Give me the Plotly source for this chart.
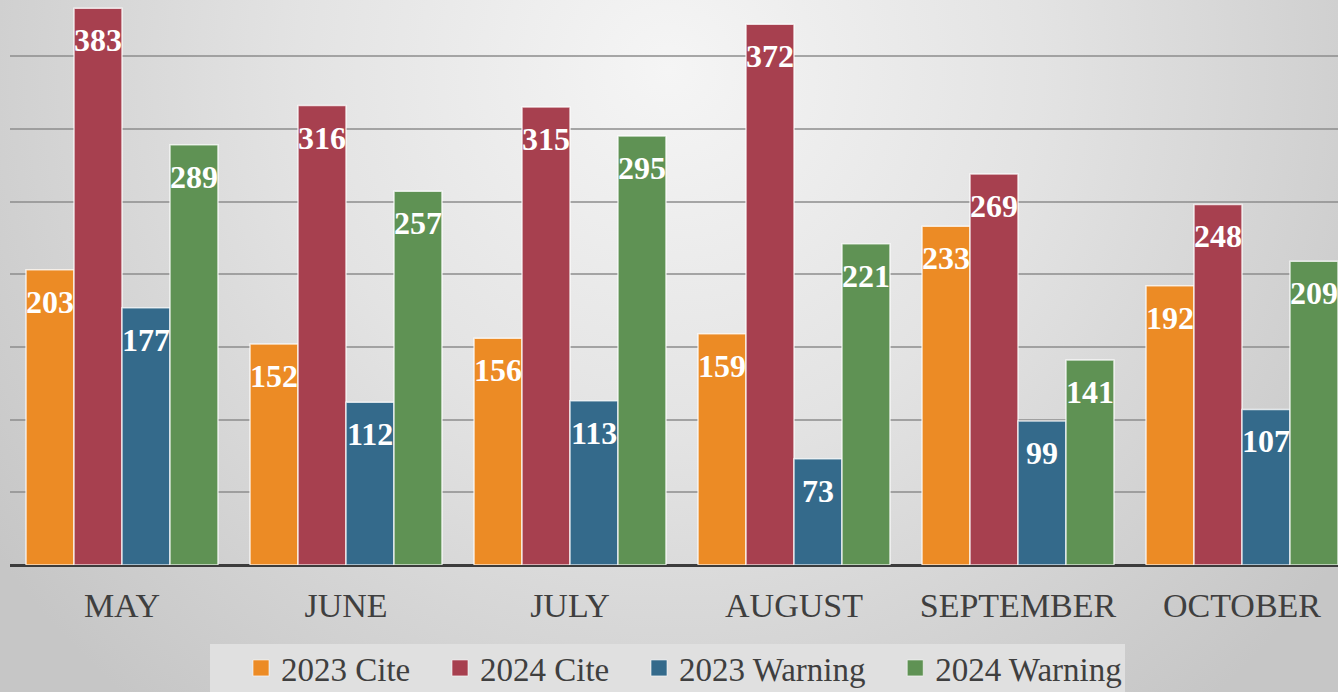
import base64
import plotly.graph_objects as go

months = ["MAY", "JUNE", "JULY", "AUGUST", "SEPTEMBER", "OCTOBER"]
cite_2023 = [203, 152, 156, 159, 233, 192]
cite_2024 = [383, 316, 315, 372, 269, 248]
warn_2023 = [177, 112, 113, 73, 99, 107]
warn_2024 = [289, 257, 295, 221, 141, 209]

series = [
    ("2023 Cite", cite_2023, "#EC8B25"),
    ("2024 Cite", cite_2024, "#A7404F"),
    ("2023 Warning", warn_2023, "#346A8B"),
    ("2024 Warning", warn_2024, "#5F9254"),
]

W, H = 1338, 692
ML, MR, MT, MB = 10, 0, 0, 127
PW, PH = W - ML - MR, H - MT - MB
CAT_PX = 224
BARGAP = 0.143
BAR_PX = CAT_PX * (1 - BARGAP) / len(series)

svg = f"""<svg xmlns='http://www.w3.org/2000/svg' width='{W}' height='{H}' viewBox='0 0 {W} {H}' preserveAspectRatio='none'>
<defs><radialGradient id='g' cx='{W*0.5}' cy='{H*0.1}' r='{W*0.62}' gradientUnits='userSpaceOnUse'>
<stop offset='0' stop-color='#f5f5f5'/><stop offset='0.45' stop-color='#e3e3e3'/><stop offset='1' stop-color='#c6c6c6'/>
</radialGradient></defs><rect width='{W}' height='{H}' fill='url(#g)'/></svg>"""
bg_uri = "data:image/svg+xml;base64," + base64.b64encode(svg.encode()).decode()

serif = "Liberation Serif, Times New Roman, serif"
NB = "\u00a0"

fig = go.Figure()
annotations = []
for i, (name, vals, color) in enumerate(series):
    fig.add_trace(go.Bar(
        x=months, y=vals, name=name, showlegend=False,
        marker=dict(color=color, line=dict(color="rgba(255,255,255,0.75)", width=1.5)),
        hoverinfo="x+y+name",
    ))
    for m, v in zip(months, vals):
        annotations.append(dict(
            x=m, y=v, xref="x", yref="y", text=str(v), showarrow=False,
            xanchor="center", yanchor="top",
            xshift=(i - (len(series) - 1) / 2) * BAR_PX, yshift=-12,
            font=dict(family=serif, size=32, color="white", weight="bold"),
        ))
for i, (name, vals, color) in enumerate(series):
    fig.add_trace(go.Scatter(
        x=[None], y=[None], mode="markers",
        name=name + (NB * 3 if i < len(series) - 1 else ""),
        marker=dict(symbol="square", size=18, color=color,
                    line=dict(color="rgba(255,255,255,0.6)", width=1)),
    ))


def px_x(p):
    return (p - ML) / PW


def px_y(p):
    return 1 - (p - MT) / PH


fig.update_layout(
    width=W, height=H,
    margin=dict(l=ML, r=MR, t=MT, b=MB),
    paper_bgcolor="#d2d2d2", plot_bgcolor="rgba(0,0,0,0)",
    barmode="group", bargap=BARGAP, bargroupgap=0,
    annotations=annotations,
    images=[dict(source=bg_uri, xref="paper", yref="paper",
                 x=-ML / PW, y=1 + MT / PH, sizex=W / PW, sizey=H / PH,
                 xanchor="left", yanchor="top", sizing="stretch", layer="below")],
    shapes=[dict(type="rect", xref="paper", yref="paper", layer="below",
                 x0=px_x(210), x1=px_x(1125), y0=px_y(692), y1=px_y(644),
                 fillcolor="#e0e0e0", line=dict(width=0))],
    legend=dict(orientation="h", xref="container", yref="container",
                x=241 / W, xanchor="left", y=1 - 640 / H, yanchor="top",
                bgcolor="rgba(0,0,0,0)", font=dict(family=serif, size=33, color="#3f3f3f"),
                itemwidth=30, tracegroupgap=0),
    showlegend=True,
)
fig.update_xaxes(range=[-0.5, -0.5 + PW / CAT_PX], showgrid=False, zeroline=False,
                 showline=False, ticks="", ticklabelstandoff=17,
                 tickfont=dict(family=serif, size=34, color="#3f3f3f"))
fig.update_yaxes(range=[0, 388.6], dtick=50, showticklabels=False,
                 gridcolor="rgba(140,140,140,0.75)", gridwidth=2,
                 zeroline=True, zerolinecolor="#3c3c3c", zerolinewidth=3)

fig.write_html("out.html", config={"displayModeBar": False},
               post_script="document.body.style.margin='0';document.body.style.overflow='hidden';")
